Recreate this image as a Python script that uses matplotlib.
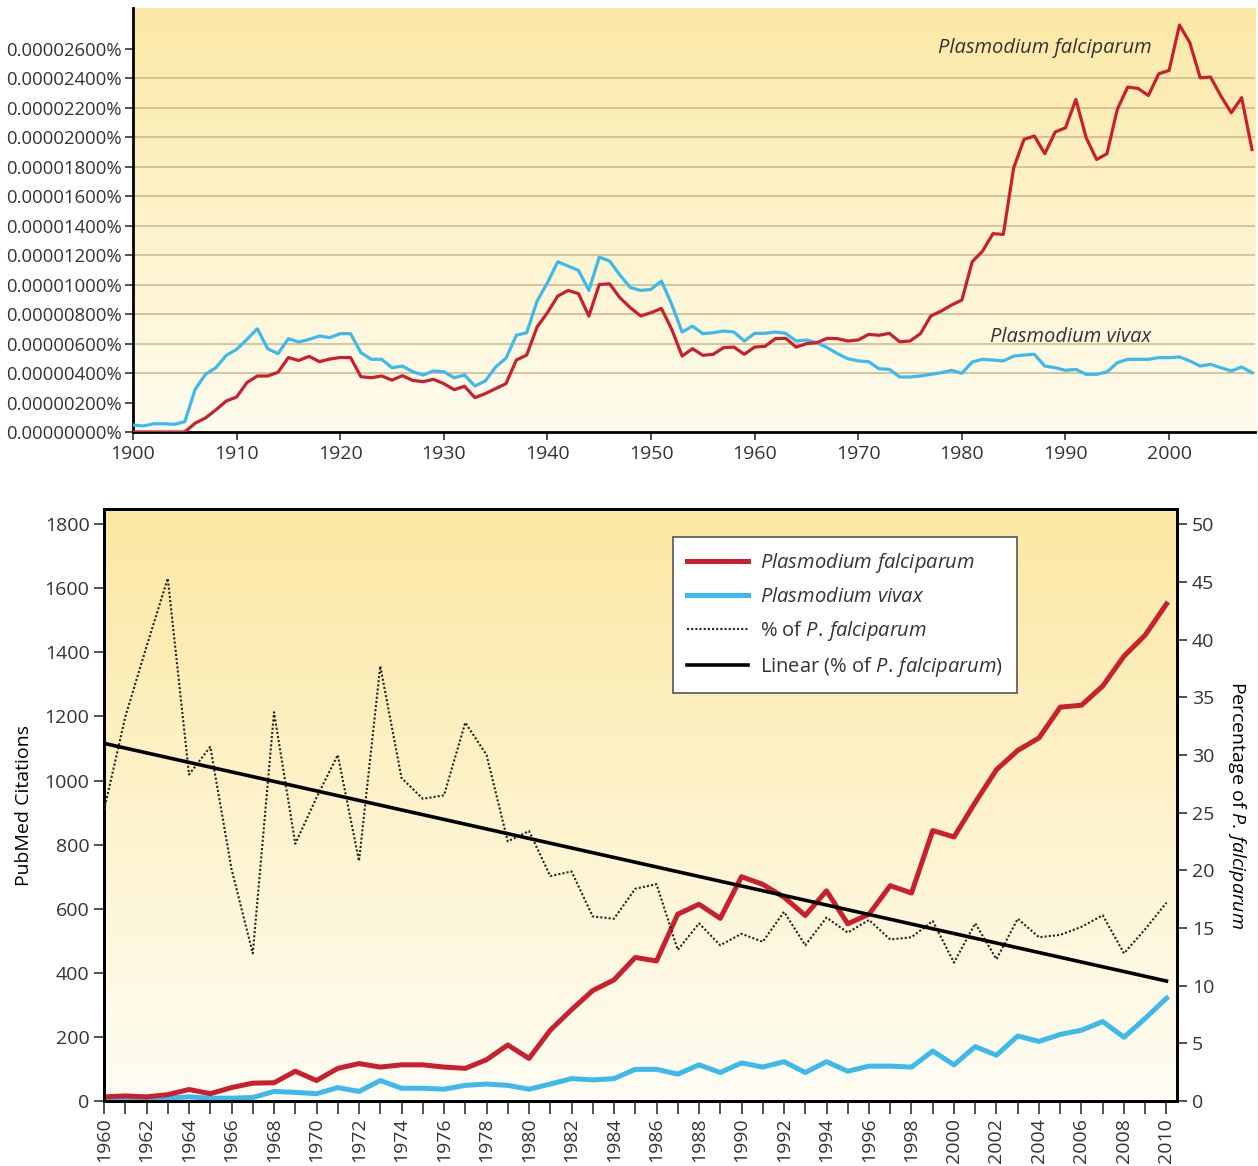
import numpy as np
import matplotlib.pyplot as plt
from matplotlib.colors import LinearSegmentedColormap
from matplotlib.lines import Line2D

plt.rcParams['font.family'] = ['Open Sans', 'DejaVu Sans']
plt.rcParams['mathtext.fontset'] = 'custom'
plt.rcParams['mathtext.rm'] = 'Open Sans'
plt.rcParams['mathtext.it'] = 'Open Sans:italic'
plt.rcParams['text.color'] = '#333333'
plt.rcParams['xtick.color'] = '#333333'
plt.rcParams['ytick.color'] = '#333333'

RED = '#c8202e'
BLUE = '#3db9ea'

# top panel: ngram frequency, in units of 1e-8 percent
ngram_years = list(range(1900, 2009))
ngram_falciparum = [
    0, 0, 0, 0, 0, 0, 60, 95, 150, 210,
    237, 335, 380, 380, 405, 505, 485, 513, 477, 495,
    505, 505, 375, 368, 380, 352, 382, 350, 341, 357,
    328, 287, 310, 233, 260, 294, 328, 488, 522, 712,
    809, 922, 960, 938, 786, 1000, 1005, 910, 843, 787,
    809, 838, 696, 515, 565, 520, 527, 572, 576, 527,
    576, 581, 633, 635, 576, 599, 606, 635, 633, 617,
    624, 662, 656, 669, 612, 617, 667, 787, 820, 861,
    895, 1155, 1227, 1345, 1340, 1792, 1985, 2007, 1887, 2034,
    2063, 2255, 1995, 1848, 1887, 2188, 2339, 2330, 2282, 2429,
    2452, 2760, 2640, 2402, 2407, 2278, 2165, 2267, 1916]
ngram_vivax = [
    47, 41, 56, 56, 52, 70, 289, 391, 436, 520,
    560, 628, 700, 565, 531, 633, 610, 628, 651, 640,
    667, 667, 538, 493, 493, 436, 447, 409, 386, 414,
    409, 368, 386, 312, 346, 441, 500, 656, 673, 888,
    1012, 1155, 1125, 1096, 960, 1186, 1159, 1064, 980, 960,
    967, 1024, 865, 678, 718, 667, 673, 685, 678, 617,
    669, 669, 678, 669, 617, 624, 606, 572, 531, 497,
    482, 477, 429, 425, 373, 373, 380, 391, 402, 418,
    398, 475, 493, 488, 482, 515, 522, 527, 447, 436,
    418, 425, 391, 391, 407, 470, 493, 493, 493, 504,
    504, 509, 482, 447, 459, 436, 414, 441, 402]
ngram_ticks = list(range(0, 2601, 200))

# bottom panel: PubMed citations
pubmed_years = list(range(1960, 2011))
pubmed_falciparum = [
    13, 16, 13, 20, 36, 23, 42, 56, 57, 93,
    64, 102, 117, 106, 113, 113, 106, 102, 129, 175,
    133, 221, 285, 345, 378, 448, 437, 583, 614, 570,
    700, 676, 636, 579, 656, 553, 583, 672, 649, 844,
    824, 932, 1034, 1094, 1133, 1229, 1235, 1295, 1388, 1454, 1551]
pubmed_vivax = [
    9, 11, 9, 9, 13, 9, 9, 11, 30, 27,
    23, 42, 30, 64, 40, 40, 37, 49, 53, 49,
    37, 53, 70, 66, 70, 99, 99, 84, 113, 89,
    119, 106, 123, 89, 123, 93, 109, 109, 106, 156,
    113, 170, 143, 203, 186, 208, 221, 248, 199, 258, 321]
pct_falciparum = [
    25.2, 33.3, 39.4, 45.3, 28.3, 30.7, 20.1, 12.8, 33.7, 22.3,
    26.3, 30.0, 20.8, 37.7, 28.0, 26.2, 26.5, 32.8, 30.0, 22.5,
    23.4, 19.5, 19.9, 16.0, 15.8, 18.4, 18.8, 13.1, 15.4, 13.5,
    14.5, 13.8, 16.4, 13.5, 15.9, 14.6, 15.7, 14.0, 14.2, 15.6,
    12.0, 15.4, 12.3, 15.8, 14.2, 14.4, 15.1, 16.1, 12.8, 14.9, 17.2]
trend_years = [1960, 2010]
trend_pct = [31.0, 10.4]


def add_gradient(ax, top, bottom):
    cmap = LinearSegmentedColormap.from_list('bg', [bottom, top])
    ax.imshow(np.linspace(0, 1, 256).reshape(-1, 1), cmap=cmap,
              extent=[0, 1, 0, 1], transform=ax.transAxes,
              aspect='auto', origin='lower', zorder=0)


fig = plt.figure(figsize=(12.58, 11.66), dpi=100)

# ---- top chart ----
ax1 = fig.add_axes([0.1057, 0.6295, 0.892, 0.3636])
add_gradient(ax1, '#fce9a6', '#fffcee')
for v in ngram_ticks[2:-1]:
    ax1.axhline(v, color='#c9b78e', lw=1.1, zorder=1)
ax1.plot(ngram_years, ngram_vivax, color=BLUE, lw=2.3, zorder=3)
ax1.plot(ngram_years, ngram_falciparum, color=RED, lw=2.3, zorder=4)
ax1.set_xlim(1900, 2008.3)
ax1.set_ylim(0, 2875)
ax1.set_yticks(ngram_ticks)
ax1.set_yticklabels(['%.8f%%' % (v * 1e-8) for v in ngram_ticks])
ax1.set_xticks(range(1900, 2001, 10))
for s in ['top', 'right']:
    ax1.spines[s].set_visible(False)
for s in ['left', 'bottom']:
    ax1.spines[s].set_linewidth(2)
ax1.tick_params(axis='y', labelsize=13.3, length=6, width=1.2, pad=2)
ax1.tick_params(axis='x', labelsize=14, length=6, width=1.2)
ax1.text(1998.3, 2603, 'Plasmodium falciparum', style='italic', fontsize=14.5,
         ha='right', va='center', zorder=5)
ax1.text(1998.3, 644, 'Plasmodium vivax', style='italic', fontsize=14.5,
         ha='right', va='center', zorder=5)

# ---- bottom chart ----
ax2 = fig.add_axes([0.0827, 0.0557, 0.853, 0.5077])
add_gradient(ax2, '#fce8a2', '#fffdf4')
ax2.plot(pubmed_years, pubmed_vivax, color=BLUE, lw=3.6, zorder=3)
ax2.plot(pubmed_years, pubmed_falciparum, color=RED, lw=3.6, zorder=4)
ax2.set_xlim(1960, 2010.5)
ax2.set_ylim(0, 1847)
ax2.set_yticks(range(0, 1801, 200))
ax2.set_xticks(pubmed_years)
ax2.set_xticklabels([str(y) if y % 2 == 0 else '' for y in pubmed_years],
                    rotation=90)
ax2.set_ylabel('PubMed Citations', fontsize=14, labelpad=8)
for s in ax2.spines.values():
    s.set_linewidth(2)
ax2.tick_params(axis='y', labelsize=14, length=7, width=1.2)
ax2.tick_params(axis='x', labelsize=14, length=9, width=1.2, pad=3)

ax3 = ax2.twinx()
ax3.plot(pubmed_years, pct_falciparum, color='#222222', lw=1.5,
         linestyle=(0, (1, 1)), zorder=3)
ax3.plot(trend_years, trend_pct, color='black', lw=2.6, zorder=4)
ax3.set_ylim(0, 1847 / 36.0)
ax3.set_yticks(range(0, 51, 5))
ax3.set_ylabel(r'Percentage of $\mathit{P.\,falciparum}$', fontsize=14,
               rotation=270, labelpad=24)
ax3.tick_params(axis='y', labelsize=14, length=7, width=1.2)
for s in ax3.spines.values():
    s.set_linewidth(2)

handles = [
    Line2D([], [], color=RED, lw=3.6),
    Line2D([], [], color=BLUE, lw=3.6),
    Line2D([], [], color='#222222', lw=1.5, linestyle=(0, (1, 1))),
    Line2D([], [], color='black', lw=2.6),
]
labels = [
    r'$\mathit{Plasmodium\ falciparum}$',
    r'$\mathit{Plasmodium\ vivax}$',
    r'% of $\mathit{P.\,falciparum}$',
    r'Linear (% of $\mathit{P.\,falciparum}$)',
]
leg = ax3.legend(handles, labels, loc='upper left', bbox_to_anchor=(0.521, 0.97),
                 fontsize=14.5, frameon=True, fancybox=False, framealpha=1,
                 edgecolor='#555555', handlelength=3.0, labelspacing=0.6,
                 borderpad=0.7, handletextpad=0.6)
leg.get_frame().set_linewidth(1.2)

fig.savefig('out.png', dpi=100)
